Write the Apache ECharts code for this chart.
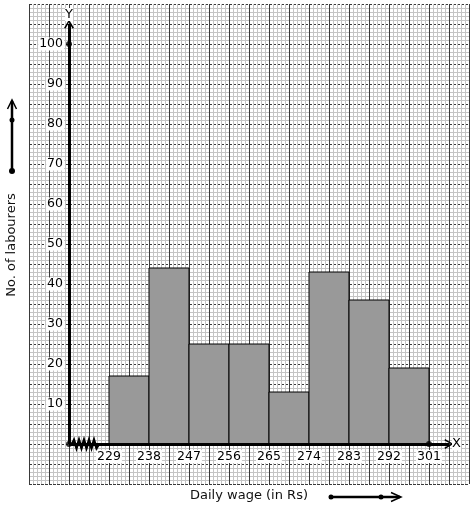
<!DOCTYPE html>
<html>
<head>
<meta charset="utf-8">
<script src="https://cdn.jsdelivr.net/npm/echarts@6/dist/echarts.min.js"></script>
<style>
  html, body { margin: 0; padding: 0; background: #fff; }
  #main { width: 474px; height: 510px; }
</style>
</head>
<body>
<div id="main"></div>
<script>
  // class intervals of daily wage (Rs) and number of labourers in each
  const classLower = [229, 238, 247, 256, 265, 274, 283, 292]
  const classUpper = [238, 247, 256, 265, 274, 283, 292, 301]
  const labourers = [17, 44, 25, 25, 13, 43, 36, 19]
  const xTickLabels = [229, 238, 247, 256, 265, 274, 283, 292, 301]
  const yTickLabels = [10, 20, 30, 40, 50, 60, 70, 80, 90, 100]

  const font = 'DejaVu Sans'
  const chevron = 'path://M0,9 L5,0 L10,9 L8.4,9.6 L5,2.8 L1.6,9.6 Z'

  let chart = echarts.init(document.getElementById('main'))

  let bars = classLower.map((lo, i) => [lo, classUpper[i], labourers[i]])

  chart.setOption({
    animation: false,
    backgroundColor: '#fff',
    grid: { left: 29, top: 4, width: 440, height: 480 },
    xAxis: [
      {
        // graph paper
        type: 'value',
        min: 0,
        max: 22,
        interval: 1,
        axisLine: { show: false },
        axisTick: { show: false },
        axisLabel: { show: false },
        splitLine: { show: true, lineStyle: { color: '#3a3a3a', width: 1 } },
        minorTick: { show: false, splitNumber: 5 },
        minorSplitLine: { show: true, lineStyle: { color: '#c4c4c4', width: 1 } },
      },
      {
        // wage axis
        type: 'value',
        min: 211,
        max: 310,
        position: 'bottom',
        offset: -40,
        axisLine: { show: false },
        axisTick: { show: false },
        splitLine: { show: false },
        axisLabel: {
          customValues: xTickLabels,
          margin: 6,
          fontFamily: font,
          fontSize: 12.5,
          color: '#000',
          backgroundColor: '#fff',
          padding: [0, 1],
        },
      },
    ],
    yAxis: {
      type: 'value',
      min: -10,
      max: 110,
      interval: 5,
      position: 'left',
      offset: -40,
      axisLine: { show: false },
      axisTick: { show: false },
      axisLabel: {
        customValues: yTickLabels,
        margin: 5,
        fontFamily: font,
        fontSize: 12.5,
        color: '#000',
        backgroundColor: '#fff',
        padding: [0, 1],
      },
      splitLine: {
        show: true,
        lineStyle: { color: '#3a3a3a', width: 1, type: [3, 1] },
      },
      minorTick: { show: false, splitNumber: 5 },
      minorSplitLine: { show: true, lineStyle: { color: '#c4c4c4', width: 1 } },
    },
    series: [
      {
        type: 'custom',
        xAxisIndex: 1,
        yAxisIndex: 0,
        data: bars,
        renderItem: function (params, api) {
          let p0 = api.coord([api.value(0), api.value(2)])
          let p1 = api.coord([api.value(1), 0])
          return {
            type: 'rect',
            shape: { x: p0[0], y: p0[1], width: p1[0] - p0[0], height: p1[1] - p0[1] },
            style: { fill: '#999', stroke: '#000', lineWidth: 1 },
          }
        },
        markLine: {
          silent: true,
          symbol: ['none', chevron],
          symbolSize: [10, 9],
          lineStyle: { color: '#000', width: 3, type: 'solid' },
          label: {
            show: true,
            position: 'end',
            distance: 3,
            fontFamily: font,
            fontSize: 13,
            color: '#000',
            backgroundColor: '#fff',
            formatter: function (p) {
              return p.dataIndex === 0 ? 'Y' : 'X'
            },
          },
          data: [
            [{ coord: [220, 0] }, { coord: [220, 105] }],
            [{ coord: [220, 0] }, { coord: [305.5, 0] }],
          ],
        },
      },
      {
        type: 'scatter',
        xAxisIndex: 1,
        yAxisIndex: 0,
        symbolSize: 6,
        itemStyle: { color: '#000' },
        data: [[220, 0], [220, 100], [301, 0]],
      },
    ],
    graphic: [
      {
        type: 'polyline',
        shape: {
          points: [[72, 444], [74, 440], [76.5, 448], [79, 440], [81.5, 448], [84, 440],
            [86.5, 448], [89, 440], [91.5, 448], [94, 440], [96.5, 448], [99, 444]],
        },
        style: { stroke: '#000', lineWidth: 2.5, fill: null },
        z: 10,
      },
      // arrow beside the y title
      { type: 'line', shape: { x1: 12, y1: 171, x2: 12, y2: 101 }, style: { stroke: '#000', lineWidth: 2.5 } },
      { type: 'polyline', shape: { points: [[7.5, 109], [12, 100], [16.5, 109]] }, style: { stroke: '#000', lineWidth: 1.5, fill: null } },
      { type: 'circle', shape: { cx: 12, cy: 171, r: 3 }, style: { fill: '#000' } },
      { type: 'circle', shape: { cx: 12, cy: 120, r: 2.5 }, style: { fill: '#000' } },
      // arrow beside the x title
      { type: 'line', shape: { x1: 331, y1: 497, x2: 400, y2: 497 }, style: { stroke: '#000', lineWidth: 2.5 } },
      { type: 'polyline', shape: { points: [[391, 492.5], [401, 497], [391, 501.5]] }, style: { stroke: '#000', lineWidth: 1.5, fill: null } },
      { type: 'circle', shape: { cx: 331, cy: 497, r: 2.5 }, style: { fill: '#000' } },
      { type: 'circle', shape: { cx: 381, cy: 497, r: 2.5 }, style: { fill: '#000' } },
      {
        type: 'text',
        x: 12,
        y: 245,
        rotation: Math.PI / 2,
        style: { text: 'No. of labourers', font: '13px "DejaVu Sans"', fill: '#111', align: 'center', verticalAlign: 'middle' },
      },
      {
        type: 'text',
        x: 249,
        y: 496,
        style: { text: 'Daily wage (in Rs)', font: '13px "DejaVu Sans"', fill: '#111', align: 'center', verticalAlign: 'middle' },
      },
    ],
  })
</script>
</body>
</html>
